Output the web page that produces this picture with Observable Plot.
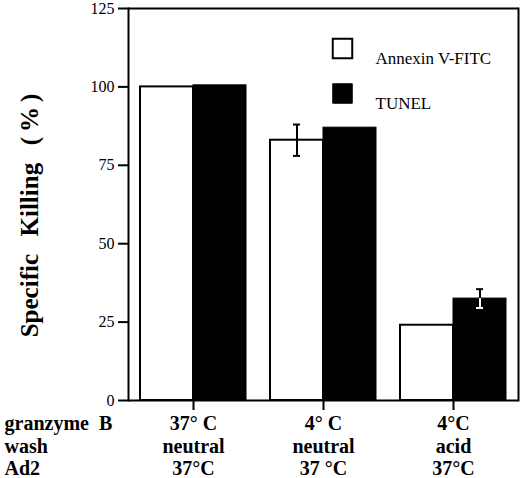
<!DOCTYPE html>
<html><head><meta charset="utf-8">
<script src="https://cdn.jsdelivr.net/npm/d3@7"></script>
<script src="https://cdn.jsdelivr.net/npm/@observablehq/plot@0.6"></script>
<style>
body{margin:0;background:#fff}
</style>
</head><body><div id="chart"></div>
<script>
const granzymeB = ["37\u00b0 C", "4\u00b0 C", "4\u00b0C"];
const wash = ["neutral", "neutral", "acid"];
const ad2 = ["37\u00b0C", "37 \u00b0C", "37\u00b0C"];
const series = ["Annexin V-FITC", "TUNEL"];
const annexin = [100, 83, 24];
const annexinErr = [0, 5, 0];
const tunel = [100.5, 87, 32.5];
const tunelErr = [0, 0, 3];
const yTicks = [0, 25, 50, 75, 100, 125];
const rowLabels = ["granzyme\u2002B", "wash", "Ad2"];
const yLabel = "Specific\u2002\u2009Killing\u2002\u2009(\u2009%\u2009)";

const groups = granzymeB.map((g, i) => [g, wash[i], ad2[i]].join("\n"));
const rows = groups.flatMap((g, i) => [
  {group: g, series: series[0], value: annexin[i], err: annexinErr[i]},
  {group: g, series: series[1], value: tunel[i], err: tunelErr[i]}
]);
const errRows = rows.filter(d => d.err > 0);
const inner = d => d.series === series[1] ? "white" : "black";
const serif = "'Liberation Serif', 'Times New Roman', serif";

const chart = Plot.plot({
  width: 520, height: 478,
  marginLeft: 127, marginRight: 2, marginTop: 8, marginBottom: 78,
  style: {fontFamily: serif, background: "white", color: "black"},
  fx: {domain: groups, paddingInner: 0, paddingOuter: 0, label: null},
  x: {domain: series, axis: null, paddingInner: 0, paddingOuter: 0.206},
  y: {domain: [0, 125], label: null},
  marks: [
    Plot.barY(rows.filter(d => d.series === series[0]), {fx: "group", x: "series", y: "value", fill: "white", stroke: "black", strokeWidth: 2}),
    Plot.barY(rows.filter(d => d.series === series[1]), {fx: "group", x: "series", y: "value", fill: "black", stroke: "black", strokeWidth: 1}),
    Plot.ruleX(errRows, {fx: "group", x: "series", y1: "value", y2: d => d.value + d.err, stroke: "black", strokeWidth: 2}),
    Plot.ruleX(errRows, {fx: "group", x: "series", y1: d => d.value - d.err, y2: "value", stroke: inner, strokeWidth: 2}),
    Plot.tickY(errRows, {fx: "group", x: "series", y: d => d.value + d.err, insetLeft: 23, insetRight: 23, stroke: "black", strokeWidth: 2}),
    Plot.tickY(errRows, {fx: "group", x: "series", y: d => d.value - d.err, insetLeft: 23, insetRight: 23, stroke: inner, strokeWidth: 2}),
    Plot.ruleY([0, 125], {stroke: "black", strokeWidth: 2}),
    Plot.frame({anchor: "left", facetAnchor: "left", stroke: "black", strokeWidth: 2}),
    Plot.frame({anchor: "right", facetAnchor: "right", stroke: "black", strokeWidth: 2}),
    Plot.axisY({ticks: yTicks, tickSize: 10, tickPadding: 4, fontSize: 16, fontFamily: serif, label: null, strokeWidth: 2}),
    Plot.axisFx({anchor: "bottom", tickSize: 10, tickPadding: 4, fontSize: 20, fontFamily: serif, fontWeight: "bold", lineHeight: 1.12, label: null, strokeWidth: 2}),
    Plot.text([rowLabels.join("\n")], {text: d => d, frameAnchor: "bottom-left", dx: -124, dy: 14, textAnchor: "start", lineAnchor: "top", lineHeight: 1.12, fontSize: 20, fontFamily: serif, fontWeight: "bold", facetAnchor: "left"}),
    Plot.text([yLabel], {text: d => d, frameAnchor: "left", textAnchor: "middle", rotate: -90, dx: -99, dy: 11, fontSize: 25, fontFamily: serif, fontWeight: "bold", facetAnchor: "left"}),
    Plot.dot([series[0]], {frameAnchor: "top-right", dx: -176, dy: 40, symbol: "square", r: 11, fill: "white", stroke: "black", strokeWidth: 2, facetAnchor: "right"}),
    Plot.dot([series[1]], {frameAnchor: "top-right", dx: -176, dy: 85, symbol: "square", r: 11, fill: "black", stroke: "black", strokeWidth: 1, facetAnchor: "right"}),
    Plot.text([series[0]], {text: d => d, frameAnchor: "top-right", dx: -143, dy: 43, textAnchor: "start", fontSize: 17, fontFamily: serif, facetAnchor: "right"}),
    Plot.text([series[1]], {text: d => d, frameAnchor: "top-right", dx: -143, dy: 88, textAnchor: "start", fontSize: 17, fontFamily: serif, facetAnchor: "right"})
  ]
});
document.getElementById("chart").append(chart);
</script>
</body></html>
